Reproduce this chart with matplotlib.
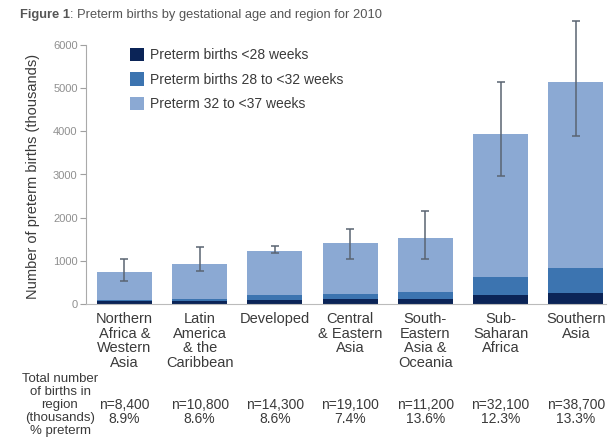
import matplotlib
matplotlib.use("Agg")
import matplotlib.pyplot as plt
import matplotlib.transforms as mtransforms
import numpy as np

plt.rcParams['font.family'] = ['Liberation Sans', 'DejaVu Sans']

regions = ["Northern\nAfrica &\nWestern\nAsia", "Latin\nAmerica\n& the\nCaribbean", "Developed",
           "Central\n& Eastern\nAsia", "South-\nEastern\nAsia &\nOceania", "Sub-\nSaharan\nAfrica",
           "Southern\nAsia"]
under28 = [60, 60, 90, 115, 115, 210, 255]
w28_32 = [40, 50, 110, 115, 165, 415, 575]
totals = [748, 929, 1230, 1413, 1523, 3948, 5147]
err_low = [530, 760, 1180, 1040, 1040, 2960, 3890]
err_high = [1040, 1320, 1340, 1730, 2150, 5140, 6550]
n_births = ["n=8,400", "n=10,800", "n=14,300", "n=19,100", "n=11,200", "n=32,100", "n=38,700"]
pct_preterm = ["8.9%", "8.6%", "8.6%", "7.4%", "13.6%", "12.3%", "13.3%"]
legend_labels = ["Preterm births <28 weeks", "Preterm births 28 to <32 weeks", "Preterm 32 to <37 weeks"]
yticks = [0, 1000, 2000, 3000, 4000, 5000, 6000]

c_dark = "#0b2457"
c_mid = "#3c74b0"
c_light = "#8ba9d3"
txt = "#3a3a3a"

W, H = 608, 448
fig = plt.figure(figsize=(W / 100, H / 100), dpi=100)
ax = fig.add_axes([86 / W, 1 - 304 / H, (606 - 86) / W, (304 - 45) / H])

x = np.arange(len(regions))
u = np.array(under28)
m = np.array(w28_32)
t = np.array(totals)
light = t - u - m
wd = 0.73
ax.bar(x, u, wd, color=c_dark, label=legend_labels[0], zorder=2)
ax.bar(x, m, wd, bottom=u, color=c_mid, label=legend_labels[1], zorder=2)
ax.bar(x, light, wd, bottom=u + m, color=c_light, label=legend_labels[2], zorder=2)

lo = t - np.array(err_low)
hi = np.array(err_high) - t
ax.errorbar(x, t, yerr=[lo, hi], fmt='none', ecolor="#5a6472", elinewidth=1.1,
            capsize=3, capthick=1.1, zorder=3, clip_on=False)

ax.set_xlim(-0.51, 6.4)
ax.set_ylim(0, 6000)
ax.set_yticks(yticks)
ax.set_yticklabels([str(v) for v in yticks], fontsize=8, color="#8f8f8f")
ax.tick_params(axis='y', length=4, color="#a0a0a0", width=0.8, pad=2)
ax.set_xticks([])
for s in ["top", "right"]:
    ax.spines[s].set_visible(False)
ax.spines["left"].set_color("#aaaaaa")
ax.spines["bottom"].set_color("#bbbbbb")

fig.text(33 / W, 1 - 176 / H, "Number of preterm births (thousands)", rotation=90, fontsize=10.5,
         color=txt, ha="center", va="center")

handles, labels = ax.get_legend_handles_labels()
fig.legend(handles, labels, loc="upper left", bbox_to_anchor=(130 / W, 1 - 48 / H),
           frameon=False, fontsize=10, handlelength=1.0, handleheight=1.1,
           handletextpad=0.45, labelspacing=0.72, borderpad=0, borderaxespad=0,
           labelcolor=txt)

tr = mtransforms.blended_transform_factory(ax.transData, fig.transFigure)
for i, lab in enumerate(regions):
    ax.text(i, 1 - 312 / H, lab, transform=tr, ha="center", va="top", fontsize=10.5,
            color=txt, linespacing=1.05)
    ax.text(i, 1 - 412 / H, n_births[i] + "\n" + pct_preterm[i], transform=tr,
            ha="center", va="center", fontsize=10, color=txt, linespacing=0.95)

fig.text(60 / W, 1 - 373 / H, "Total number\nof births in\nregion\n(thousands)\n% preterm", ha="center",
         va="top", fontsize=9.5, color=txt, linespacing=1.1)

t1 = fig.text(20 / W, 1 - 15 / H, "Figure 1", fontsize=9.3, fontweight="bold", color="#555555",
              va="center")
fig.canvas.draw()
bb = t1.get_window_extent()
fig.text(bb.x1 / W, 1 - 15 / H, ": Preterm births by gestational age and region for 2010", fontsize=9.3,
         color="#555555", va="center")

fig.savefig("out.png", dpi=100)
